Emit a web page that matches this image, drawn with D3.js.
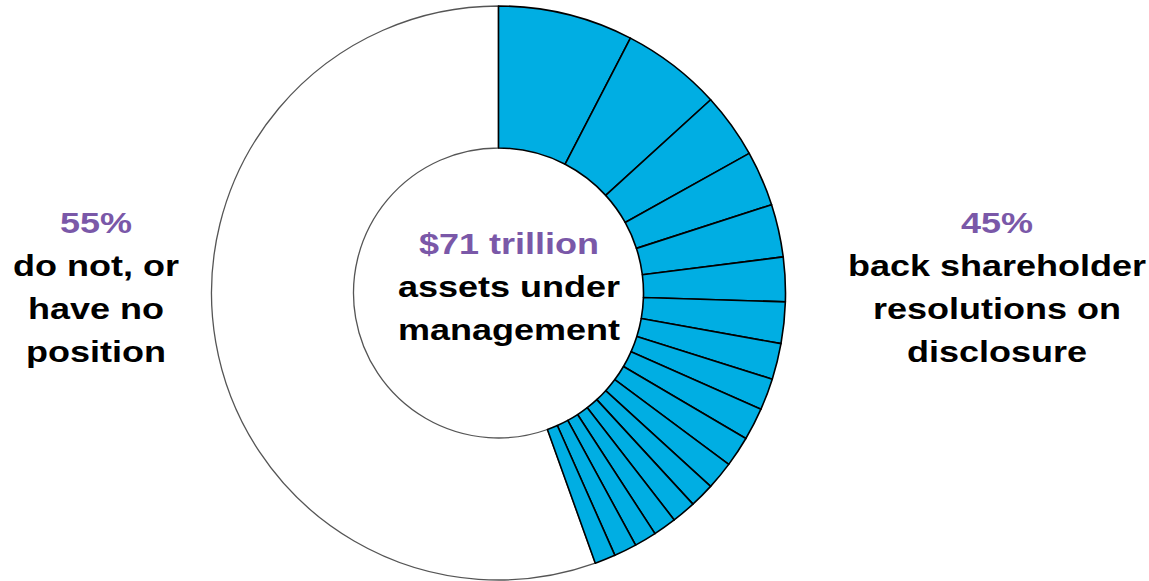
<!DOCTYPE html>
<html>
<head>
<meta charset="utf-8">
<script src="https://cdn.jsdelivr.net/npm/d3@7"></script>
<style>
  html, body { margin: 0; padding: 0; background: #fff; }
  svg { display: block; }
  text { font-family: "Liberation Sans", Arial, sans-serif; font-weight: bold; }
</style>
</head>
<body>
<svg id="chart" width="1149" height="581"></svg>
<script>
// Share of $71 trillion AUM (%), individual investors backing disclosure resolutions
const backingShares = [7.6, 5.64, 3.67, 3.11, 2.97, 2.5, 2.33, 2.03, 1.78, 1.83, 1.72, 1.58, 1.39, 1.36, 1.31, 1.25, 1.28, 1.17];
const remainderShare = [55.47];
const centerLines = ["$71 trillion", "assets under", "management"];
const leftLines = ["55%", "do not, or", "have no", "position"];
const rightLines = ["45%", "back shareholder", "resolutions on", "disclosure"];

const svg = d3.select("#chart");
const cx = 498.5, cy = 293, R = 287, r = 145;
const purple = "#7A58A8", blue = "#00AEE3";

const data = backingShares.map(v => ({ v, kind: "back" }))
  .concat(remainderShare.map(v => ({ v, kind: "rest" })));

const pie = d3.pie().value(d => d.v).sort(null).startAngle(0).endAngle(2 * Math.PI);
const arc = d3.arc().innerRadius(r).outerRadius(R);
const arcs = pie(data);

const g = svg.append("g").attr("transform", `translate(${cx},${cy})`);

// white remainder first, then blue slices on top with black separators
g.selectAll("path.rest").data(arcs.filter(a => a.data.kind === "rest"))
  .join("path").attr("class", "rest")
  .attr("d", arc).attr("fill", "#fff")
  .attr("stroke", "#555").attr("stroke-width", 1.3);

g.selectAll("path.back").data(arcs.filter(a => a.data.kind === "back"))
  .join("path").attr("class", "back")
  .attr("d", arc).attr("fill", blue)
  .attr("stroke", "#000").attr("stroke-width", 1.6).attr("stroke-linejoin", "round");

const fs = 30, sx = 1.2, lh = 43;
function block(lines, x, y0) {
  const t = svg.append("g").attr("transform", `translate(${x},${y0}) scale(${sx},1)`);
  t.selectAll("text").data(lines).join("text")
    .attr("x", 0).attr("y", (d, i) => i * lh)
    .attr("text-anchor", "middle")
    .attr("font-size", fs)
    .attr("fill", (d, i) => i === 0 ? purple : "#000")
    .text(d => d);
}
block(leftLines, 96, 233);
block(rightLines, 997, 233);
block(centerLines, 509, 254);
</script>
</body>
</html>
